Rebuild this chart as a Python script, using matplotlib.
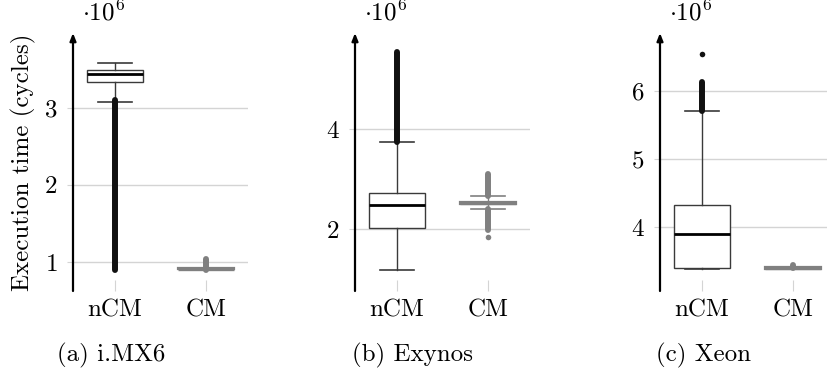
import matplotlib
matplotlib.use("Agg")
import matplotlib.pyplot as plt

plt.rcParams["font.family"] = ["cmr10", "DejaVu Serif"]
plt.rcParams["mathtext.fontset"] = "cm"
plt.rcParams["axes.unicode_minus"] = False
plt.rcParams["axes.formatter.use_mathtext"] = True

# --- data (execution time in 1e6 cycles) ---
categories = ["nCM", "CM"]
panel_titles = ["(a) i.MX6", "(b) Exynos", "(c) Xeon"]

# box statistics: (whislo, q1, med, q3, whishi)
imx6_stats = [(3.08, 3.34, 3.44, 3.49, 3.58), (0.90, 0.905, 0.91, 0.92, 0.925)]
exynos_stats = [(1.18, 2.02, 2.48, 2.72, 3.74), (2.40, 2.49, 2.52, 2.55, 2.66)]
xeon_stats = [(3.38, 3.40, 3.90, 4.32, 5.71), (3.385, 3.39, 3.40, 3.41, 3.415)]

# dense outlier bands (lo, hi) and isolated outliers, per category
imx6_flier_bands = [[(0.89, 3.10)], [(0.90, 1.04)]]
imx6_flier_points = [[], []]
exynos_flier_bands = [[(3.74, 5.54)], [(2.66, 3.10), (1.98, 2.40)]]
exynos_flier_points = [[], [1.84]]
xeon_flier_bands = [[(5.70, 6.13)], [(3.40, 3.44)]]
xeon_flier_points = [[6.54], []]

ylims = [(0.623, 3.97), (0.76, 5.92), (3.06, 6.85)]
yticks = [[1, 2, 3], [2, 4], [4, 5, 6]]

all_stats = [imx6_stats, exynos_stats, xeon_stats]
all_bands = [imx6_flier_bands, exynos_flier_bands, xeon_flier_bands]
all_points = [imx6_flier_points, exynos_flier_points, xeon_flier_points]

W, H = 828, 372
fig = plt.figure(figsize=(W / 100, H / 100), dpi=100)

ax_left_px = [73, 355, 660]
ax_width_px = 175
ax_top_px, ax_bot_px = 33, 291
caption_x_px = [111, 413, 704]

grid_col = "#d4d4d4"
box_col = "#3a3a3a"
cm_col = "#808080"
flier_col = "#111111"
fs = 18

for i in range(3):
    ax = fig.add_axes([ax_left_px[i] / W, (H - ax_bot_px) / H,
                       ax_width_px / W, (ax_bot_px - ax_top_px) / H])
    positions = [1, 2]
    stats = []
    for lab, (lo, q1, med, q3, hi) in zip(categories, all_stats[i]):
        stats.append(dict(label=lab, whislo=lo, q1=q1, med=med, q3=q3,
                          whishi=hi, fliers=[]))
    for k, (st, pos) in enumerate(zip(stats, positions)):
        if k == 0:
            ec, mc, lw_box, lw_med = box_col, "black", 1.0, 2.0
        else:
            ec, mc, lw_box, lw_med = cm_col, cm_col, 1.6, 2.4
        ax.bxp([st], positions=[pos], widths=0.62, showfliers=False,
               patch_artist=True,
               boxprops=dict(facecolor="white", edgecolor=ec, linewidth=lw_box),
               medianprops=dict(color=mc, linewidth=lw_med),
               whiskerprops=dict(color=ec, linewidth=1.0),
               capprops=dict(color=ec, linewidth=1.2),
               capwidths=0.38, zorder=3)
        col = flier_col if k == 0 else cm_col
        for lo, hi in all_bands[i][k]:
            ax.plot([pos, pos], [lo, hi], color=col, linewidth=4.3,
                    solid_capstyle="round", zorder=4)
        if all_points[i][k]:
            ax.plot([pos] * len(all_points[i][k]), all_points[i][k], "o",
                    color=col, markersize=4.0, markeredgewidth=0, zorder=4)

    ax.set_xlim(0.538, 2.462)
    ax.set_ylim(*ylims[i])
    ax.set_yticks(yticks[i])
    ax.set_xticks(positions)
    ax.set_xticklabels(categories)
    ax.yaxis.grid(True, color=grid_col, linewidth=1.0)
    ax.set_axisbelow(True)
    for s in ax.spines.values():
        s.set_visible(False)
    ax.tick_params(axis="y", direction="out", length=4, color=grid_col,
                   pad=7, labelsize=fs)
    ax.tick_params(axis="x", direction="in", length=8, color=grid_col,
                   pad=6, labelsize=fs)
    # y axis drawn as an arrow
    ax.annotate("", xy=(0, 1.0), xytext=(0, 0), xycoords="axes fraction",
                textcoords="axes fraction",
                arrowprops=dict(arrowstyle="-|>,head_length=0.45,head_width=0.18",
                                color="black", linewidth=1.6,
                                shrinkA=0, shrinkB=0), annotation_clip=False)
    ax.text(0.05, 1.03, r"$\cdot 10^6$", transform=ax.transAxes,
            fontsize=fs, ha="left", va="bottom")
    if i == 0:
        ax.set_ylabel("Execution time (cycles)", fontsize=fs, labelpad=6)
    fig.text(caption_x_px[i] / W, 1 - 355 / H, panel_titles[i],
             fontsize=fs, ha="center", va="center")

fig.savefig("out.png", dpi=100)
